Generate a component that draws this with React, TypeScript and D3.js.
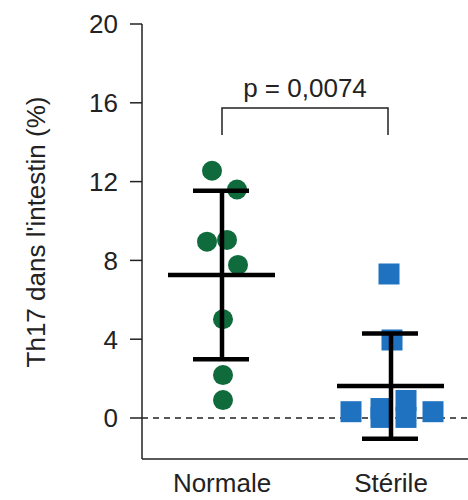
import React from "react";
import * as d3 from "d3";

const categories = ["Normale", "Stérile"];
const normaleValues = [12.55, 11.6, 8.95, 9.04, 7.77, 5.01, 2.18, 0.91];
const normaleJitter = [-10, 15, -15, 5, 16, 1, 1, 1];
const sterileValues = [7.31, 3.96, 0.32, 0.48, 0.03, 0.89, 0.03, 0.32];
const sterileJitter = [-2, 1, -40, -10, -10, 15, 15, 42];
const groupMeans = [7.26, 1.62];
const groupSDs = [4.28, 2.67];
const yTicks = [0, 4, 8, 12, 16, 20];
const pLabel = "p = 0,0074";
const yTitle = "Th17 dans l'intestin (%)";

const W = 468;
const H = 500;
const FONT = "Liberation Sans, Arial, sans-serif";

export default function App() {
  const axisX = 142;
  const axisBottom = 459;
  const y = d3.scaleLinear().domain([0, 20]).range([418, 24]);
  const x = d3.scalePoint<string>().domain(categories).range([222, 391]);

  const groups = [
    { values: normaleValues, jitter: normaleJitter, color: "#0f6b3c", shape: "circle" },
    { values: sterileValues, jitter: sterileJitter, color: "#1f72c0", shape: "square" },
  ];

  const bracketY = 108;
  const bracketBottom = 135;
  const x0 = x(categories[0])!;
  const x1 = x(categories[1])! - 3;

  return (
    <svg width={W} height={H} style={{ position: "absolute", left: 0, top: 0 }}>
      <rect width={W} height={H} fill="#fff" />
      {/* y axis */}
      <line x1={axisX} x2={axisX} y1={y(20)} y2={axisBottom} stroke="#222" strokeWidth={1.5} />
      <line x1={axisX} x2={W} y1={axisBottom} y2={axisBottom} stroke="#222" strokeWidth={1.5} />
      {yTicks.map((t) => (
        <g key={t}>
          <line x1={axisX - 12} x2={axisX} y1={y(t)} y2={y(t)} stroke="#222" strokeWidth={1.5} />
          <text
            x={118}
            y={y(t)}
            dy="0.36em"
            textAnchor="end"
            fontFamily={FONT}
            fontSize={26}
            fill="#222"
          >
            {t}
          </text>
        </g>
      ))}
      <text
        transform={`translate(45,${232}) rotate(-90)`}
        textAnchor="middle"
        fontFamily={FONT}
        fontSize={26}
        fill="#222"
      >
        {yTitle}
      </text>
      {/* zero dashed line */}
      <line
        x1={axisX}
        x2={W}
        y1={y(0)}
        y2={y(0)}
        stroke="#222"
        strokeWidth={1.5}
        strokeDasharray="6,5"
      />
      {/* category labels */}
      {categories.map((c, i) => (
        <text
          key={c}
          x={x(c)! + (i === 0 ? 0 : 0)}
          y={492}
          textAnchor="middle"
          fontFamily={FONT}
          fontSize={26}
          fill="#222"
        >
          {c}
        </text>
      ))}
      {/* points */}
      {groups.map((g, gi) =>
        g.values.map((v, i) => {
          const cx = x(categories[gi])! + g.jitter[i];
          const cy = y(v);
          return g.shape === "circle" ? (
            <circle key={`${gi}-${i}`} cx={cx} cy={cy} r={10} fill={g.color} />
          ) : (
            <rect key={`${gi}-${i}`} x={cx - 10.5} y={cy - 10.5} width={21} height={21} fill={g.color} />
          );
        })
      )}
      {/* mean +- SD */}
      {categories.map((c, i) => {
        const cx = x(c)!;
        const m = groupMeans[i];
        const s = groupSDs[i];
        return (
          <g key={c} stroke="#000" strokeWidth={4.5}>
            <line x1={cx} x2={cx} y1={y(m + s)} y2={y(m - s)} />
            <line x1={cx - 54} x2={cx + 53} y1={y(m)} y2={y(m)} />
            <line x1={cx - 29} x2={cx + 27} y1={y(m + s)} y2={y(m + s)} />
            <line x1={cx - 29} x2={cx + 27} y1={y(m - s)} y2={y(m - s)} />
          </g>
        );
      })}
      {/* significance bracket */}
      <path
        d={`M${x0},${bracketBottom}V${bracketY}H${x1}V${bracketBottom}`}
        fill="none"
        stroke="#222"
        strokeWidth={1.5}
      />
      <text
        x={(x0 + x1) / 2}
        y={97}
        textAnchor="middle"
        fontFamily={FONT}
        fontSize={26}
        fill="#222"
      >
        {pLabel}
      </text>
    </svg>
  );
}
